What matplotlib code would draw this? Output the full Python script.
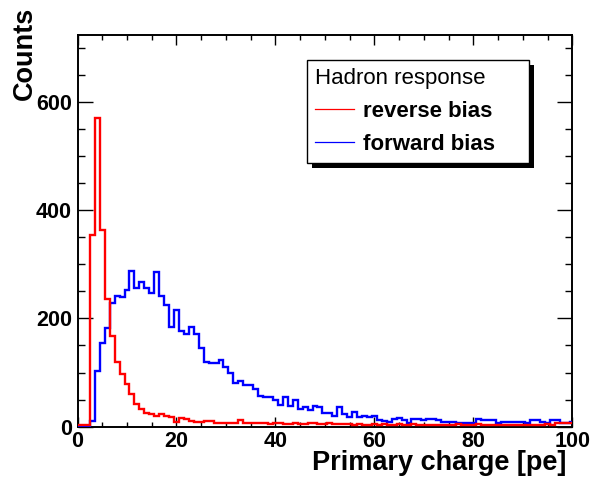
import numpy as np
import matplotlib
matplotlib.use("Agg")
import matplotlib.pyplot as plt
from matplotlib.ticker import MultipleLocator
from matplotlib.lines import Line2D
from matplotlib.patches import Rectangle
from matplotlib.transforms import IdentityTransform

# ---- data (bin centres 0..100, width 1) ----
bin_centres = list(range(0, 101))
reverse_bias = [3, 3, 3, 354, 570, 364, 236, 167, 120, 97,
                78, 60, 42, 33, 25, 23, 20, 23, 20, 17,
                9, 16, 14, 11, 9, 8, 11, 10, 7, 6,
                6, 7, 7, 12, 6, 7, 7, 6, 6, 5,
                6, 6, 5, 5, 6, 5, 5, 6, 6, 5,
                5, 6, 5, 5, 5, 5, 4, 5, 4, 4,
                5, 4, 5, 4, 4, 5, 4, 4, 5, 4,
                4, 3, 4, 4, 3, 4, 4, 5, 4, 4,
                4, 5, 4, 4, 4, 3, 4, 4, 3, 4,
                4, 4, 3, 4, 4, 5, 4, 6, 6, 7,
                6]
forward_bias = [0, 0, 0, 10, 103, 154, 182, 229, 241, 239,
                252, 287, 257, 267, 257, 247, 286, 241, 225, 184,
                215, 177, 172, 185, 172, 145, 120, 117, 117, 123,
                110, 99, 81, 84, 77, 77, 69, 57, 54, 54,
                49, 40, 55, 38, 49, 32, 37, 30, 38, 37,
                26, 25, 20, 37, 23, 18, 28, 18, 20, 18,
                20, 12, 11, 9, 14, 16, 13, 6, 14, 14,
                12, 14, 14, 12, 9, 9, 9, 7, 7, 7,
                7, 15, 12, 12, 12, 7, 8, 8, 8, 8,
                8, 6, 12, 12, 9, 7, 12, 12, 6, 6,
                8]
legend_title = "Hadron response"
legend_labels = ["reverse bias", "forward bias"]
x_label = "Primary charge [pe]"
y_label = "Counts"

FONT = "Liberation Sans"
W, H = 593, 483
fig = plt.figure(figsize=(W / 100, H / 100), dpi=100)
fig.patch.set_facecolor("white")

ax = fig.add_axes([77.5 / W, 1 - 426.7 / H, (572.3 - 77.5) / W, (426.7 - 34.7) / H])

edges = np.array(bin_centres + [bin_centres[-1] + 1], dtype=float) - 0.5
ax.stairs(forward_bias, edges, color="#0000ff", lw=1.7, baseline=None, zorder=3)
ax.stairs(reverse_bias, edges, color="#ff0000", lw=1.7, baseline=None, zorder=3)

ax.set_xlim(0, 100)
ax.set_ylim(0, 724)

ax.xaxis.set_major_locator(MultipleLocator(20))
ax.xaxis.set_minor_locator(MultipleLocator(5))
ax.yaxis.set_major_locator(MultipleLocator(200))
ax.yaxis.set_minor_locator(MultipleLocator(50))

ax.tick_params(axis="both", which="both", direction="in", top=True, right=True,
               color="black", width=1.0)
ax.tick_params(axis="x", which="major", length=7.5, pad=3)
ax.tick_params(axis="x", which="minor", length=3.8)
ax.tick_params(axis="y", which="major", length=10.5, pad=4)
ax.tick_params(axis="y", which="minor", length=5)
for lab in ax.get_xticklabels() + ax.get_yticklabels():
    lab.set_fontfamily(FONT)
    lab.set_fontweight("bold")
    lab.set_fontsize(15.5)
for s in ax.spines.values():
    s.set_linewidth(1.4)
    s.set_color("black")

# axis titles (ROOT style, aligned to axis ends)
fig.text(566.7 / W, 1 - 470 / H, x_label, ha="right", va="baseline",
         fontfamily=FONT, fontweight="bold", fontsize=19.5)
fig.text(37.5 / W, 1 - 6.7 / H, y_label, ha="right", va="top", rotation=90,
         fontfamily=FONT, fontweight="bold", fontsize=19.5)

# legend
handles = [Line2D([], [], color="#ff0000", lw=0.9),
           Line2D([], [], color="#0000ff", lw=0.9)]
lx0, lx1 = 307.3 / W, 529.3 / W
ly1 = 1 - 60 / H
leg = ax.legend(handles, legend_labels, title=legend_title,
                bbox_to_anchor=(lx0, ly1 - 0.2, lx1 - lx0, 0.2),
                bbox_transform=fig.transFigure, loc="upper left", mode="expand",
                borderaxespad=0, alignment="left", fancybox=False,
                framealpha=1, edgecolor="black",
                prop={"family": FONT, "weight": "bold", "size": 16},
                title_fontproperties={"family": FONT, "size": 16},
                handlelength=1.75, handletextpad=0.4, labelspacing=0.55,
                borderpad=0.35)
leg.get_frame().set_linewidth(1.0)
leg.set_zorder(10)

fig.canvas.draw()
bb = leg.get_window_extent()
off = 4.5
shadow = Rectangle((bb.x0 + off, bb.y0 - off), bb.width, bb.height,
                   transform=IdentityTransform(), facecolor="black",
                   edgecolor="none", zorder=9.9, clip_on=False)
ax.add_artist(shadow)

fig.savefig("out.png", dpi=100, facecolor="white")
